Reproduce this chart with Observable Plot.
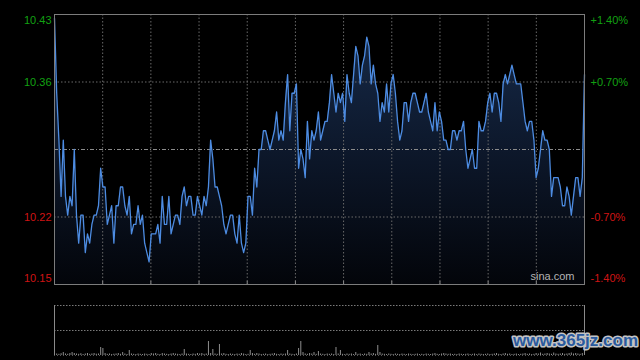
<!DOCTYPE html>
<html><head><meta charset="utf-8">
<script src="https://cdn.jsdelivr.net/npm/d3@7"></script>
<script src="https://cdn.jsdelivr.net/npm/@observablehq/plot@0.6"></script>
<style>
html,body{margin:0;padding:0;background:#000;width:640px;height:360px;overflow:hidden}
#chart svg{display:block}
</style></head><body><div id="chart"></div>
<script>
const prevClose = 10.29;
const prices = [
10.43,10.35,10.30,10.24,10.30,10.24,10.22,10.24,10.23,10.29,
10.22,10.19,10.22,10.22,10.18,10.20,10.19,10.21,10.22,10.22,
10.23,10.27,10.25,10.25,10.21,10.22,10.23,10.19,10.23,10.23,
10.25,10.25,10.23,10.22,10.24,10.20,10.21,10.21,10.23,10.21,
10.22,10.19,10.18,10.17,10.20,10.20,10.20,10.21,10.19,10.24,
10.21,10.21,10.24,10.20,10.21,10.22,10.22,10.21,10.24,10.25,
10.23,10.24,10.24,10.22,10.22,10.24,10.23,10.22,10.24,10.23,
10.25,10.30,10.28,10.25,10.25,10.24,10.23,10.21,10.20,10.21,
10.22,10.22,10.20,10.19,10.22,10.19,10.18,10.19,10.24,10.24,
10.22,10.27,10.25,10.29,10.29,10.31,10.31,10.30,10.29,10.30,
10.31,10.33,10.30,10.31,10.30,10.34,10.37,10.31,10.35,10.35,
10.36,10.27,10.29,10.28,10.26,10.32,10.28,10.31,10.30,10.31,
10.33,10.30,10.31,10.32,10.32,10.34,10.37,10.35,10.33,10.35,
10.34,10.35,10.32,10.37,10.35,10.34,10.37,10.40,10.39,10.36,
10.38,10.39,10.41,10.40,10.36,10.38,10.36,10.35,10.32,10.34,
10.33,10.36,10.33,10.36,10.37,10.35,10.32,10.30,10.31,10.34,
10.34,10.32,10.34,10.35,10.35,10.34,10.33,10.33,10.34,10.35,
10.33,10.32,10.31,10.34,10.31,10.33,10.32,10.30,10.30,10.29,
10.29,10.31,10.31,10.30,10.31,10.31,10.32,10.29,10.27,10.28,
10.29,10.27,10.27,10.32,10.31,10.31,10.32,10.34,10.35,10.33,
10.35,10.35,10.34,10.32,10.36,10.37,10.36,10.37,10.38,10.37,
10.36,10.36,10.36,10.34,10.32,10.31,10.32,10.32,10.30,10.26,
10.27,10.29,10.31,10.30,10.30,10.29,10.24,10.26,10.26,10.26,
10.25,10.23,10.23,10.25,10.24,10.22,10.24,10.26,10.26,10.24,
10.26,10.37
];
const volumes = [
300,150,120,180,300,150,120,200,300,200,
150,120,180,100,150,200,120,150,200,130,
150,800,700,200,120,150,100,130,150,200,
120,300,150,100,500,150,120,100,150,120,
100,150,120,100,200,150,200,120,100,200,
150,120,100,150,200,150,120,100,150,600,
150,120,100,150,120,200,150,200,120,150,
1400,200,600,150,120,1100,150,200,120,100,
150,120,100,150,120,200,150,100,120,500,
200,120,200,150,100,120,150,100,120,150,
200,120,100,150,120,150,500,150,120,100,
150,700,1400,300,150,120,200,150,300,120,
400,150,120,100,150,120,150,100,800,150,
500,120,100,150,120,150,100,300,120,150,
100,150,120,300,150,200,120,1000,300,150,
120,100,150,120,100,150,120,100,150,120,
100,150,120,100,120,150,100,120,100,150,
120,100,150,200,120,100,150,200,150,120,
150,100,120,100,150,120,100,120,150,100,
120,150,100,150,120,100,120,150,100,120,
150,200,120,100,150,200,120,150,100,120,
150,100,120,150,200,120,150,100,120,200,
150,250,120,150,200,150,120,250,150,120,
150,200,120,150,200,250,150,200,150,120,
200,300
];
const tickPcts = [1.4, 0.7, -0.7, -1.4];
const priceLabels = ["10.43", "10.36", "10.22", "10.15"];
const pctLabels = ["+1.40%", "+0.70%", "-0.70%", "-1.40%"];
const watermark = "sina.com";
const siteMark = "www.365jz.com";

const GREEN = "#12a012", RED = "#d01414";
const lo = prevClose * (1 - 0.014), hi = prevClose * (1 + 0.014);
const N = prices.length;
const pts = prices.map((p, i) => ({m: i, p}));
const vols = volumes.map((v, i) => ({m: i, v}));
const gridX = d3.range(1, 11).map(k => k * (N - 1) / 11);
const ticks = tickPcts.map((pct, i) => ({
  y: prevClose * (1 + pct / 100), left: priceLabels[i], right: pctLabels[i],
  c: pct > 0 ? GREEN : RED, pos: i === 0 ? "top" : i === tickPcts.length - 1 ? "bottom" : "mid"
}));

const defsMark = () => {
  const d = d3.create("svg:defs");
  const g = d.append("linearGradient").attr("id", "areaGrad")
    .attr("gradientUnits", "userSpaceOnUse").attr("x1", 0).attr("x2", 0).attr("y1", 14).attr("y2", 284);
  g.append("stop").attr("offset", 0).attr("stop-color", "#172c4c");
  g.append("stop").attr("offset", 0.55).attr("stop-color", "#0c1628");
  g.append("stop").attr("offset", 1).attr("stop-color", "#03050a");
  return d.node();
};

const labelMarks = [];
for (const [pos, dy] of [["top", 6], ["mid", 0], ["bottom", -6]]) {
  const sub = ticks.filter(t => t.pos === pos);
  labelMarks.push(Plot.text(sub, {y: "y", text: "left", fill: "c", frameAnchor: "left", textAnchor: "end", dx: -3, dy, fontSize: 11}));
  labelMarks.push(Plot.text(sub, {y: "y", text: "right", fill: "c", frameAnchor: "right", textAnchor: "start", dx: 6, dy, fontSize: 11}));
}

const main = Plot.plot({
  width: 640, height: 290, marginLeft: 54, marginRight: 56, marginTop: 14, marginBottom: 6,
  style: {background: "#000", fontFamily: "'Liberation Sans', Arial, sans-serif", fontSize: "11px"},
  x: {domain: [0, N - 1], axis: null},
  y: {domain: [lo, hi], axis: null},
  color: {type: "identity"},
  marks: [
    defsMark,
    Plot.areaY(pts, {x: "m", y1: lo, y2: "p", fill: "url(#areaGrad)"}),
    Plot.ruleY(ticks, {y: "y", stroke: "#6a6a6a", strokeDasharray: "1.5,2"}),
    Plot.ruleX(gridX, {stroke: "#6a6a6a", strokeDasharray: "1.5,2"}),
    Plot.ruleY([prevClose], {stroke: "#8c8c8c", strokeDasharray: "4,2,1,2"}),
    Plot.lineY(pts, {x: "m", y: "p", stroke: "#4d8ce2", strokeWidth: 1.3}),
    Plot.frame({stroke: "#7c7c7c"}),
    Plot.ruleX(gridX, {stroke: "#8a8a8a", insetTop: 267}),
    ...labelMarks,
    Plot.text([watermark], {frameAnchor: "bottom-right", textAnchor: "end", dx: -10, dy: -5, fill: "#b4b4b4", fontSize: 11})
  ]
});

const vol = Plot.plot({
  width: 640, height: 70, marginLeft: 54, marginRight: 56, marginTop: 15, marginBottom: 5,
  style: {background: "#000", fontFamily: "'Liberation Sans', Arial, sans-serif", overflow: "visible"},
  x: {domain: [0, N - 1], axis: null},
  y: {domain: [0, 5000], axis: null},
  marks: [
    Plot.ruleY([5000, 2500], {stroke: "#7a7a7a", strokeDasharray: "1.5,1.5"}),
    Plot.ruleY([0], {stroke: "#555", strokeDasharray: "1,2"}),
    Plot.ruleX(vols, {x: "m", y1: 0, y2: "v", stroke: "#8e8e8e", strokeWidth: 1}),
    Plot.ruleX([0, N - 1], {stroke: "#8a8a8a"}),
    Plot.text([siteMark], {frameAnchor: "bottom-right", textAnchor: "middle", dx: -9, dy: -10,
      fill: "#2a5a9e", stroke: "#c4c4c4", strokeWidth: 3, fontSize: 17, fontWeight: "bold",
      fontFamily: "'Liberation Sans', Arial, sans-serif"})
  ]
});

document.getElementById("chart").append(main, vol);
</script></body></html>
